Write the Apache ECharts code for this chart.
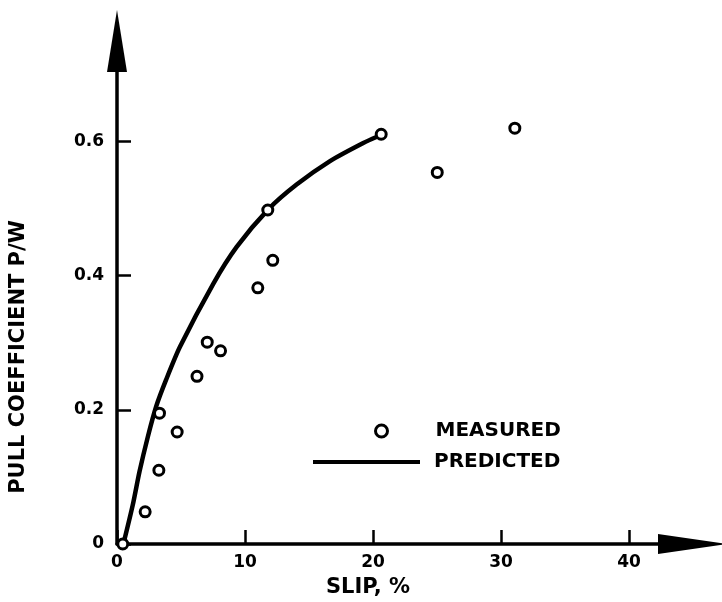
<!DOCTYPE html>
<html>
<head>
<meta charset="utf-8">
<script src="https://cdn.jsdelivr.net/npm/echarts@6/dist/echarts.min.js"></script>
<style>html,body{margin:0;padding:0;background:#fff}#c{width:722px;height:602px}</style>
</head>
<body>
<div id="c"></div>
<script>
// Measured points: [slip %, pull coefficient]
const measuredSlip = [0.45, 2.2, 3.27, 3.32, 4.70, 6.25, 7.05, 8.09, 11.78, 12.17, 11.0, 20.64, 25.02, 31.08];
const measuredPull = [0.0, 0.048, 0.110, 0.195, 0.167, 0.250, 0.301, 0.288, 0.498, 0.423, 0.382, 0.611, 0.554, 0.620];
// Predicted curve
const predictedSlip = [0.5, 1.23, 1.76, 2.41, 3.06, 3.84, 4.92, 7.52, 9.35, 11.82, 14.03, 16.64, 19.24, 20.4];
const predictedPull = [0.0, 0.058, 0.108, 0.160, 0.205, 0.245, 0.294, 0.388, 0.443, 0.499, 0.536, 0.571, 0.598, 0.608];
const xTicks = [0, 10, 20, 30, 40];
const yTicks = [0, 0.2, 0.4, 0.6];
const xTitle = 'SLIP, %';
const yTitle = 'PULL COEFFICIENT P/W';
const legendNames = ['MEASURED', 'PREDICTED'];

const FONT = 'DejaVu Sans';
const chart = echarts.init(document.getElementById('c'), null, {renderer: 'canvas'});
const axisText = {color: '#000', fontFamily: FONT, fontWeight: 'bold', fontSize: 17};
const legendText = {color: '#000', fontFamily: FONT, fontWeight: 'bold', fontSize: 20};

chart.setOption({
  animation: false,
  backgroundColor: '#fff',
  grid: {left: 117, right: 29, top: 41, bottom: 58, containLabel: false},
  xAxis: {
    type: 'value', min: 0, max: 45,
    splitLine: {show: false},
    axisLine: {lineStyle: {color: '#000', width: 3.5}, symbol: ['none', 'triangle'], symbolSize: [20, 70]},
    axisTick: {inside: true, length: 14, lineStyle: {color: '#000', width: 2.5}, customValues: xTicks},
    axisLabel: Object.assign({margin: 10, customValues: xTicks, formatter: v => String(v)}, axisText)
  },
  yAxis: {
    type: 'value', min: 0, max: 0.75,
    splitLine: {show: false},
    axisLine: {lineStyle: {color: '#000', width: 3.5}, symbol: ['none', 'triangle'], symbolSize: [20, 62]},
    axisTick: {inside: true, length: 14, lineStyle: {color: '#000', width: 2.5}, customValues: yTicks},
    axisLabel: Object.assign({margin: 13, customValues: yTicks, formatter: v => (v === 0 ? '0' : v.toFixed(1))}, axisText)
  },
  legend: [
    {
      data: [{name: legendNames[0], icon: 'circle'}], orient: 'vertical', left: 374, top: 421, padding: 0,
      itemWidth: 12, itemHeight: 12, itemGap: 0,
      itemStyle: {color: '#fff', borderColor: '#000', borderWidth: 3},
      textStyle: Object.assign({padding: [0, 0, 0, 43]}, legendText)
    },
    {
      data: [{name: legendNames[1], icon: 'rect'}], orient: 'vertical', left: 313, top: 452, padding: 0,
      itemWidth: 107, itemHeight: 4, itemGap: 0,
      itemStyle: {color: '#000', borderWidth: 0},
      textStyle: Object.assign({padding: [0, 0, 0, 9]}, legendText)
    }
  ],
  graphic: [
    {type: 'text', x: 368, y: 588, style: {text: xTitle, fill: '#000', font: 'bold 21px "DejaVu Sans"', textAlign: 'center', textVerticalAlign: 'middle'}},
    {type: 'text', x: 19, y: 357, rotation: Math.PI / 2, style: {text: yTitle, fill: '#000', font: 'bold 21px "DejaVu Sans"', textAlign: 'center', textVerticalAlign: 'middle'}}
  ],
  series: [
    {
      name: legendNames[1], type: 'line', smooth: 0.25, symbol: 'none', z: 2,
      lineStyle: {color: '#000', width: 4.5},
      data: predictedSlip.map((x, i) => [x, predictedPull[i]])
    },
    {
      name: legendNames[0], type: 'scatter', symbol: 'circle', symbolSize: 10, z: 3,
      itemStyle: {color: '#fff', borderColor: '#000', borderWidth: 3, opacity: 1},
      data: measuredSlip.map((x, i) => [x, measuredPull[i]])
    }
  ]
});
</script>
</body>
</html>
